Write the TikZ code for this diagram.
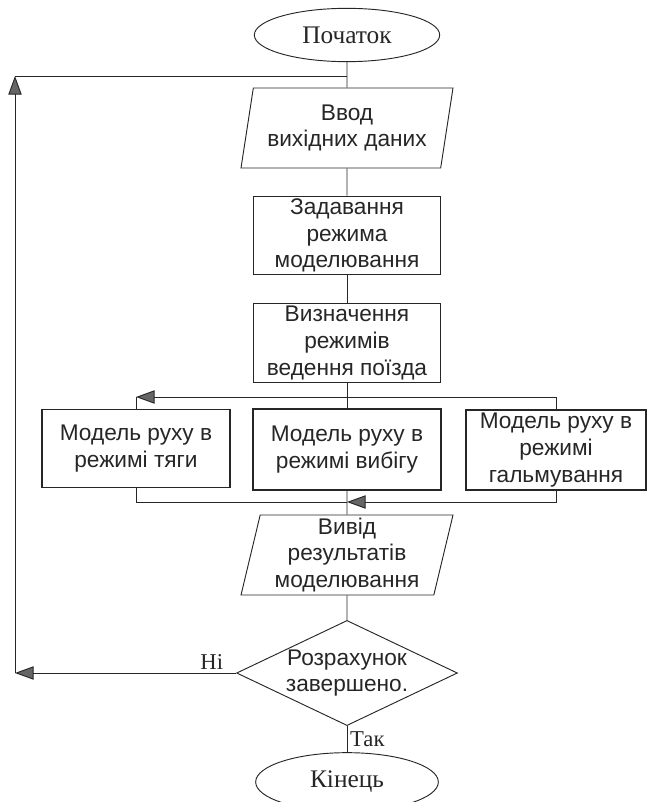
\documentclass[tikz,border=0pt]{standalone}
\usepackage{fontspec}
\setmainfont{Liberation Serif}
\setsansfont{Liberation Sans}
\usetikzlibrary{shapes.geometric,arrows.meta}

\begin{document}
\begin{tikzpicture}[x=0.75pt,y=-0.75pt,color=black!85,line width=0.7pt,
	>={Triangle[length=14pt,width=10pt,fill=black!60]},
	term/.style={draw,ellipse,minimum width=139pt,minimum height=40pt,inner sep=0pt,
		font=\fontsize{19}{21}\selectfont},
	io/.style={draw,trapezium,trapezium left angle=76,trapezium right angle=104,
		trapezium stretches body,minimum width=159pt,minimum height=60pt,inner sep=1pt,
		align=center,font=\sffamily\fontsize{17}{20}\selectfont},
	proc/.style={draw,rectangle,line width=0.9pt,minimum width=140pt,minimum height=59pt,
		inner sep=1pt,align=center,font=\sffamily\fontsize{17}{20}\selectfont},
	dec/.style={draw,diamond,aspect=2.1,minimum width=162pt,minimum height=76pt,inner sep=0pt,
		align=center,font=\sffamily\fontsize{17}{20}\selectfont},
	lbl/.style={inner sep=2pt,font=\fontsize{17}{19}\selectfont}]
	\useasboundingbox (0,0) rectangle (647,802);
	\node[term] (St) at (347,35) {Початок};
	\node[io] (In) at (347,128) {Ввод\\вихідних даних};
	\node[proc] (Set) at (347,235.5) {Задавання\\режима\\моделювання};
	\node[proc] (Md) at (347,343) {Визначення\\режимів\\ведення поїзда};
	\node[proc,minimum width=141pt] (ML) at (136,448.5) {Модель руху в\\режимі тяги};
	\node[proc,minimum width=141pt,minimum height=61pt,line width=1.5pt] (MC) at (347,449.5)
		{Модель руху в\\режимі вибігу};
	\node[proc,minimum width=135pt,minimum height=60pt] (MR) at (556,450)
		{Модель руху в\\режимі\\гальмування};
	\node[io] (Out) at (347,555) {Вивід\\результатів\\моделювання};
	\node[dec] (Dec) at (347,673) {Розрахунок\\завершено.};
	\node[term,minimum width=137pt,minimum height=44pt] (End) at (347,782) {Кінець};
	\coordinate (LU) at (15,76);
	\coordinate (LD) at (15,673);
	\coordinate (BT) at (347,397);
	\coordinate (BB) at (347,502);

	\draw (St) -- (In);
	\draw (In) -- (Set);
	\draw (Set) -- (Md);
	\draw (Md) -- (MC);
	\draw [->] (MR.north) |- (ML.north |- BT);
	\draw (ML.north |- BT) -- (ML.north);
	\draw (ML.south) |- (BB);
	\draw [->] (MR.south) |- (BB);
	\draw (MC) -- (Out);
	\draw (Out) -- (Dec);
	\draw [->] (Dec.west) -- node [lbl,above,pos=0.11] {Ні} (LD);
	\draw [->] (LD) -- (LU);
	\draw (LU) -- (St.south |- LU);
	\draw (Dec) -- node [lbl,right] {Так} (End);
\end{tikzpicture}
\end{document}
